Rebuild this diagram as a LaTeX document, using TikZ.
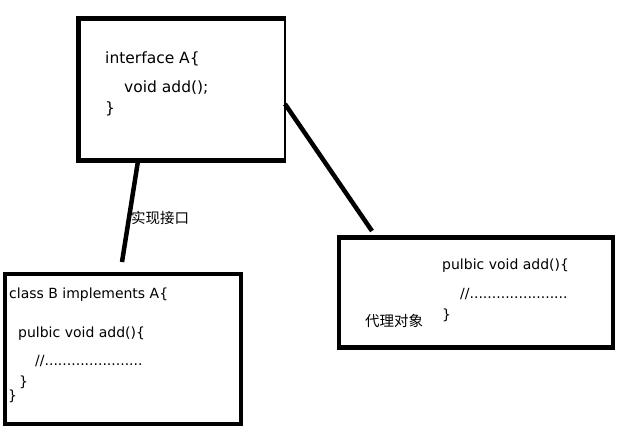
\documentclass[tikz,border=0pt]{standalone}
\usepackage{fontspec}
\setmainfont{DejaVu Sans}
\newfontfamily\cjk{Noto Sans CJK SC}
\usepackage{tikz}
\usetikzlibrary{positioning}

\begin{document}
\begin{tikzpicture}[
x=1pt,y=-1pt,
MyBox/.style={draw=black,line width=4.5pt,rectangle,inner sep=0pt},
Links/.style={draw=black,line width=4.5pt},
CodeText/.style={anchor=base west,inner sep=0pt,font=\fontsize{14}{16}\selectfont},
BigText/.style={anchor=base west,inner sep=0pt,font=\fontsize{15.5}{17}\selectfont},
ZhText/.style={anchor=base west,inner sep=0pt,font=\cjk\fontsize{14.5}{16}\selectfont}
]
\useasboundingbox (0,0) rectangle (630,437);

% the interface (right side drawn thin)
\node[minimum width=206.5pt,minimum height=142pt,inner sep=0pt] (boxA) at (181.75,89.5) {};
\draw[line width=4.5pt] (boxA.north east) -- (boxA.north west) -- (boxA.south west) -- (boxA.south east);
\draw[line width=1.5pt] ([yshift=2.25pt]boxA.north east) -- ([yshift=-2.25pt]boxA.south east);

% the implementing class and the proxy
\node[MyBox,minimum width=236pt,minimum height=150pt] (boxB) at (123,349) {};
\node[MyBox,minimum width=274pt,minimum height=110pt] (boxC) at (476,292.5) {};

% text of the interface
\node[BigText] (ifA) at (105,63) {interface A\{};
\node[BigText] (ifM) at (124,92.5) {void add();};
\node[BigText] (ifE) at (105,113) {\}};

% text of class B
\node[CodeText] (clB) at (9,298) {class B implements A\{};
\node[CodeText] (clM) at (18,337) {pulbic void add()\{};
\node[CodeText] (clC) at (35,365) {//......................};
\node[CodeText] (clE) at (19,386) {\}};
\node[CodeText] (clF) at (8,400) {\}};

% text of the proxy
\node[CodeText] (pxM) at (442,269.5) {pulbic void add()\{};
\node[CodeText] (pxC) at (460,298) {//......................};
\node[CodeText] (pxE) at (442,319) {\}};
\node[ZhText] (pxL) at (365,326) {代理对象};

% connectors
\coordinate (L1a) at (138,161);
\coordinate (L1b) at (122,262);
\coordinate (L2a) at (285,104);
\coordinate (L2b) at (372,231);
\draw[Links] (L1a) -- (L1b);
\draw[Links] (L2a) -- (L2b);
\node[ZhText] (impl) at (131,223) {实现接口};

\end{tikzpicture}
\end{document}
